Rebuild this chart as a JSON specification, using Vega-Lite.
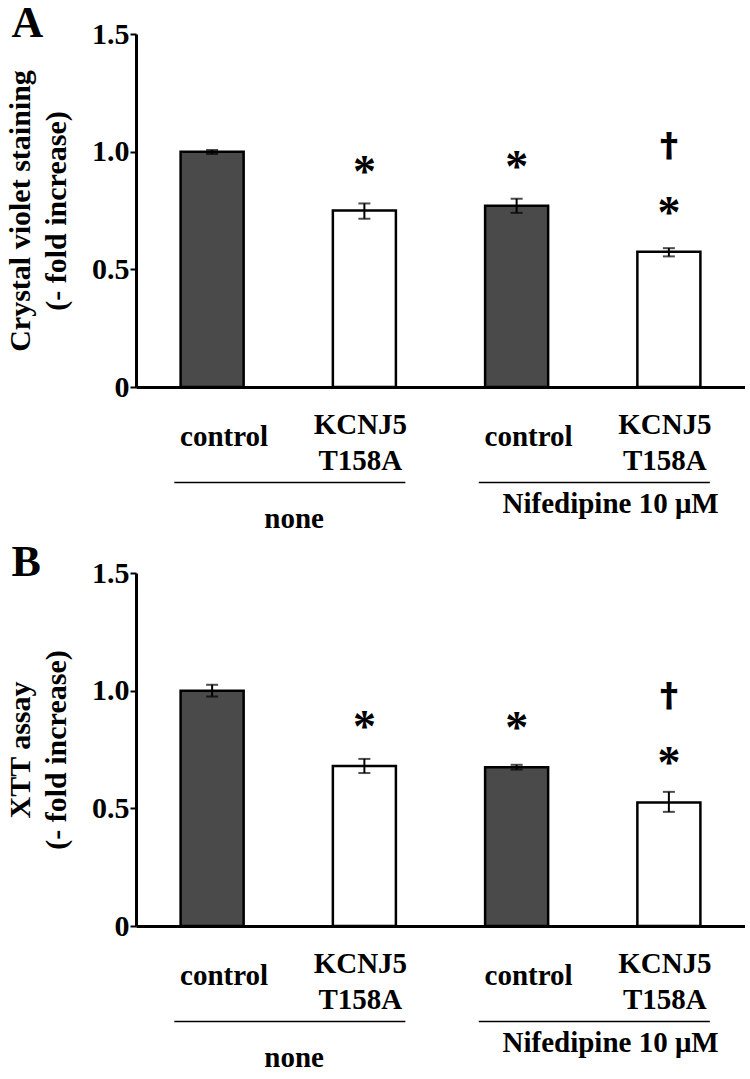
{
  "$schema": "https://vega.github.io/schema/vega-lite/v6.json",
  "padding": {"left": 5, "top": 2, "right": 0, "bottom": 0},
  "background": "white",
  "spacing": 6,
  "config": {
    "font": "Liberation Serif, Times New Roman, DejaVu Serif, serif",
    "view": {"stroke": null},
    "text": {"font": "Liberation Serif, Times New Roman, DejaVu Serif, serif", "fontWeight": "bold", "color": "black"},
    "axis": {"labelFont": "Liberation Serif, Times New Roman, DejaVu Serif, serif", "titleFont": "Liberation Serif, Times New Roman, DejaVu Serif, serif", "labelColor": "black", "titleColor": "black"},
    "title": {"font": "Liberation Serif, Times New Roman, DejaVu Serif, serif"}
  },
  "datasets": {
    "bars": [
      {"panel": "A", "cond": "c1", "geno": "control", "label": "control", "mean": 1.0, "lo": 0.99, "hi": 1.007, "star": "", "dagger": ""},
      {"panel": "A", "cond": "k1", "geno": "KCNJ5", "label": "KCNJ5\nT158A", "mean": 0.75, "lo": 0.715, "hi": 0.78, "star": "*", "dagger": ""},
      {"panel": "A", "cond": "c2", "geno": "control", "label": "control", "mean": 0.77, "lo": 0.74, "hi": 0.8, "star": "*", "dagger": ""},
      {"panel": "A", "cond": "k2", "geno": "KCNJ5", "label": "KCNJ5\nT158A", "mean": 0.575, "lo": 0.555, "hi": 0.59, "star": "*", "dagger": "†"},
      {"panel": "B", "cond": "c1", "geno": "control", "label": "control", "mean": 1.0, "lo": 0.975, "hi": 1.025, "star": "", "dagger": ""},
      {"panel": "B", "cond": "k1", "geno": "KCNJ5", "label": "KCNJ5\nT158A", "mean": 0.68, "lo": 0.65, "hi": 0.71, "star": "*", "dagger": ""},
      {"panel": "B", "cond": "c2", "geno": "control", "label": "control", "mean": 0.675, "lo": 0.665, "hi": 0.685, "star": "*", "dagger": ""},
      {"panel": "B", "cond": "k2", "geno": "KCNJ5", "label": "KCNJ5\nT158A", "mean": 0.525, "lo": 0.485, "hi": 0.57, "star": "*", "dagger": "†"}
    ],
    "groups": [
      {"group": "none", "from": "c1", "to": "k1"},
      {"group": "Nifedipine 10 μM", "from": "c2", "to": "k2"}
    ]
  },
  "vconcat": [
    {
      "width": 609,
      "height": 353,
      "title": {"text": "A", "anchor": "start", "frame": "bounds", "fontSize": 44, "fontWeight": "bold", "color": "black", "offset": 0, "dx": 6, "dy": 27},
      "data": {"name": "bars"},
      "transform": [{"filter": "datum.panel === 'A'"}],
      "layer": [
        {
          "mark": {"type": "bar", "stroke": "black", "strokeWidth": 2.5},
          "encoding": {
            "x": {"field": "cond", "type": "nominal", "scale": {"domain": ["c1", "k1", "c2", "k2"], "paddingInner": 0.586, "paddingOuter": 0.293}, "axis": {"title": null, "labels": false, "ticks": false, "domainColor": "black", "domainWidth": 3}},
            "y": {"field": "mean", "type": "quantitative", "scale": {"domain": [0, 1.5], "nice": false}, "axis": {"title": ["Crystal violet staining", "(- fold increase)"], "values": [0, 0.5, 1, 1.5], "labelExpr": "datum.value == 0 ? '0' : format(datum.value, '.1f')", "grid": false, "tickSize": 6, "tickWidth": 2, "tickColor": "black", "domainColor": "black", "domainWidth": 3, "labelFontSize": 30, "labelFontWeight": "bold", "labelPadding": 1, "titleFontSize": 30, "titleFontWeight": "bold", "titlePadding": 20, "titleLineHeight": 36}},
            "fill": {"field": "geno", "type": "nominal", "scale": {"domain": ["control", "KCNJ5"], "range": ["#4a4a4a", "#ffffff"]}, "legend": null}
          }
        },
        {
          "mark": {"type": "rule", "color": "black", "strokeWidth": 2},
          "encoding": {"x": {"field": "cond", "type": "nominal"}, "y": {"field": "lo", "type": "quantitative"}, "y2": {"field": "hi"}}
        },
        {
          "mark": {"type": "tick", "color": "black", "size": 12, "thickness": 2},
          "encoding": {"x": {"field": "cond", "type": "nominal"}, "y": {"field": "lo", "type": "quantitative"}}
        },
        {
          "mark": {"type": "tick", "color": "black", "size": 12, "thickness": 2},
          "encoding": {"x": {"field": "cond", "type": "nominal"}, "y": {"field": "hi", "type": "quantitative"}}
        },
        {
          "transform": [{"filter": "datum.star !== ''"}],
          "mark": {"type": "text", "fontSize": 46, "dy": -24, "baseline": "alphabetic"},
          "encoding": {"x": {"field": "cond", "type": "nominal"}, "y": {"field": "mean", "type": "quantitative"}, "text": {"field": "star"}}
        },
        {
          "transform": [{"filter": "datum.dagger !== ''"}],
          "mark": {"type": "text", "fontSize": 32, "dy": -95, "baseline": "alphabetic", "font": "Noto Sans CJK JP", "fontWeight": 900},
          "encoding": {"x": {"field": "cond", "type": "nominal"}, "y": {"field": "mean", "type": "quantitative"}, "text": {"field": "dagger"}}
        },
        {
          "transform": [{"filter": "datum.geno === 'control'"}],
          "mark": {"type": "text", "fontSize": 29, "baseline": "middle", "dx": 12},
          "encoding": {"x": {"field": "cond", "type": "nominal"}, "y": {"datum": -0.213}, "text": {"field": "label"}}
        },
        {
          "transform": [{"filter": "datum.geno === 'KCNJ5'"}],
          "mark": {"type": "text", "fontSize": 29, "baseline": "middle", "dx": -4, "dy": -12, "lineBreak": "\n", "lineHeight": 36},
          "encoding": {"x": {"field": "cond", "type": "nominal"}, "y": {"datum": -0.213}, "text": {"field": "label"}}
        },
        {
          "data": {"name": "groups"},
          "mark": {"type": "rule", "color": "black", "strokeWidth": 1.5},
          "encoding": {"x": {"field": "from", "type": "nominal", "bandPosition": -0.1}, "x2": {"field": "to", "bandPosition": 1.15}, "y": {"datum": -0.406}}
        },
        {
          "data": {"name": "groups"},
          "transform": [{"filter": "datum.group === 'none'"}],
          "mark": {"type": "text", "fontSize": 29, "baseline": "alphabetic", "dx": 82},
          "encoding": {"x": {"field": "from", "type": "nominal"}, "y": {"datum": -0.6}, "text": {"field": "group"}}
        },
        {
          "data": {"name": "groups"},
          "transform": [{"filter": "datum.group !== 'none'"}],
          "mark": {"type": "text", "fontSize": 29, "baseline": "alphabetic", "dx": 94},
          "encoding": {"x": {"field": "from", "type": "nominal"}, "y": {"datum": -0.535}, "text": {"field": "group"}}
        }
      ]
    },
    {
      "width": 609,
      "height": 353,
      "title": {"text": "B", "anchor": "start", "frame": "bounds", "fontSize": 44, "fontWeight": "bold", "color": "black", "offset": 0, "dx": 6, "dy": 27},
      "data": {"name": "bars"},
      "transform": [{"filter": "datum.panel === 'B'"}],
      "layer": [
        {
          "mark": {"type": "bar", "stroke": "black", "strokeWidth": 2.5},
          "encoding": {
            "x": {"field": "cond", "type": "nominal", "scale": {"domain": ["c1", "k1", "c2", "k2"], "paddingInner": 0.586, "paddingOuter": 0.293}, "axis": {"title": null, "labels": false, "ticks": false, "domainColor": "black", "domainWidth": 3}},
            "y": {"field": "mean", "type": "quantitative", "scale": {"domain": [0, 1.5], "nice": false}, "axis": {"title": ["XTT assay", "(- fold increase)"], "values": [0, 0.5, 1, 1.5], "labelExpr": "datum.value == 0 ? '0' : format(datum.value, '.1f')", "grid": false, "tickSize": 6, "tickWidth": 2, "tickColor": "black", "domainColor": "black", "domainWidth": 3, "labelFontSize": 30, "labelFontWeight": "bold", "labelPadding": 1, "titleFontSize": 30, "titleFontWeight": "bold", "titlePadding": 20, "titleLineHeight": 36}},
            "fill": {"field": "geno", "type": "nominal", "scale": {"domain": ["control", "KCNJ5"], "range": ["#4a4a4a", "#ffffff"]}, "legend": null}
          }
        },
        {
          "mark": {"type": "rule", "color": "black", "strokeWidth": 2},
          "encoding": {"x": {"field": "cond", "type": "nominal"}, "y": {"field": "lo", "type": "quantitative"}, "y2": {"field": "hi"}}
        },
        {
          "mark": {"type": "tick", "color": "black", "size": 12, "thickness": 2},
          "encoding": {"x": {"field": "cond", "type": "nominal"}, "y": {"field": "lo", "type": "quantitative"}}
        },
        {
          "mark": {"type": "tick", "color": "black", "size": 12, "thickness": 2},
          "encoding": {"x": {"field": "cond", "type": "nominal"}, "y": {"field": "hi", "type": "quantitative"}}
        },
        {
          "transform": [{"filter": "datum.star !== ''"}],
          "mark": {"type": "text", "fontSize": 46, "dy": -24, "baseline": "alphabetic"},
          "encoding": {"x": {"field": "cond", "type": "nominal"}, "y": {"field": "mean", "type": "quantitative"}, "text": {"field": "star"}}
        },
        {
          "transform": [{"filter": "datum.dagger !== ''"}],
          "mark": {"type": "text", "fontSize": 32, "dy": -95, "baseline": "alphabetic", "font": "Noto Sans CJK JP", "fontWeight": 900},
          "encoding": {"x": {"field": "cond", "type": "nominal"}, "y": {"field": "mean", "type": "quantitative"}, "text": {"field": "dagger"}}
        },
        {
          "transform": [{"filter": "datum.geno === 'control'"}],
          "mark": {"type": "text", "fontSize": 29, "baseline": "middle", "dx": 12},
          "encoding": {"x": {"field": "cond", "type": "nominal"}, "y": {"datum": -0.213}, "text": {"field": "label"}}
        },
        {
          "transform": [{"filter": "datum.geno === 'KCNJ5'"}],
          "mark": {"type": "text", "fontSize": 29, "baseline": "middle", "dx": -4, "dy": -12, "lineBreak": "\n", "lineHeight": 36},
          "encoding": {"x": {"field": "cond", "type": "nominal"}, "y": {"datum": -0.213}, "text": {"field": "label"}}
        },
        {
          "data": {"name": "groups"},
          "mark": {"type": "rule", "color": "black", "strokeWidth": 1.5},
          "encoding": {"x": {"field": "from", "type": "nominal", "bandPosition": -0.1}, "x2": {"field": "to", "bandPosition": 1.15}, "y": {"datum": -0.406}}
        },
        {
          "data": {"name": "groups"},
          "transform": [{"filter": "datum.group === 'none'"}],
          "mark": {"type": "text", "fontSize": 29, "baseline": "alphabetic", "dx": 82},
          "encoding": {"x": {"field": "from", "type": "nominal"}, "y": {"datum": -0.6}, "text": {"field": "group"}}
        },
        {
          "data": {"name": "groups"},
          "transform": [{"filter": "datum.group !== 'none'"}],
          "mark": {"type": "text", "fontSize": 29, "baseline": "alphabetic", "dx": 94},
          "encoding": {"x": {"field": "from", "type": "nominal"}, "y": {"datum": -0.535}, "text": {"field": "group"}}
        }
      ]
    }
  ]
}
